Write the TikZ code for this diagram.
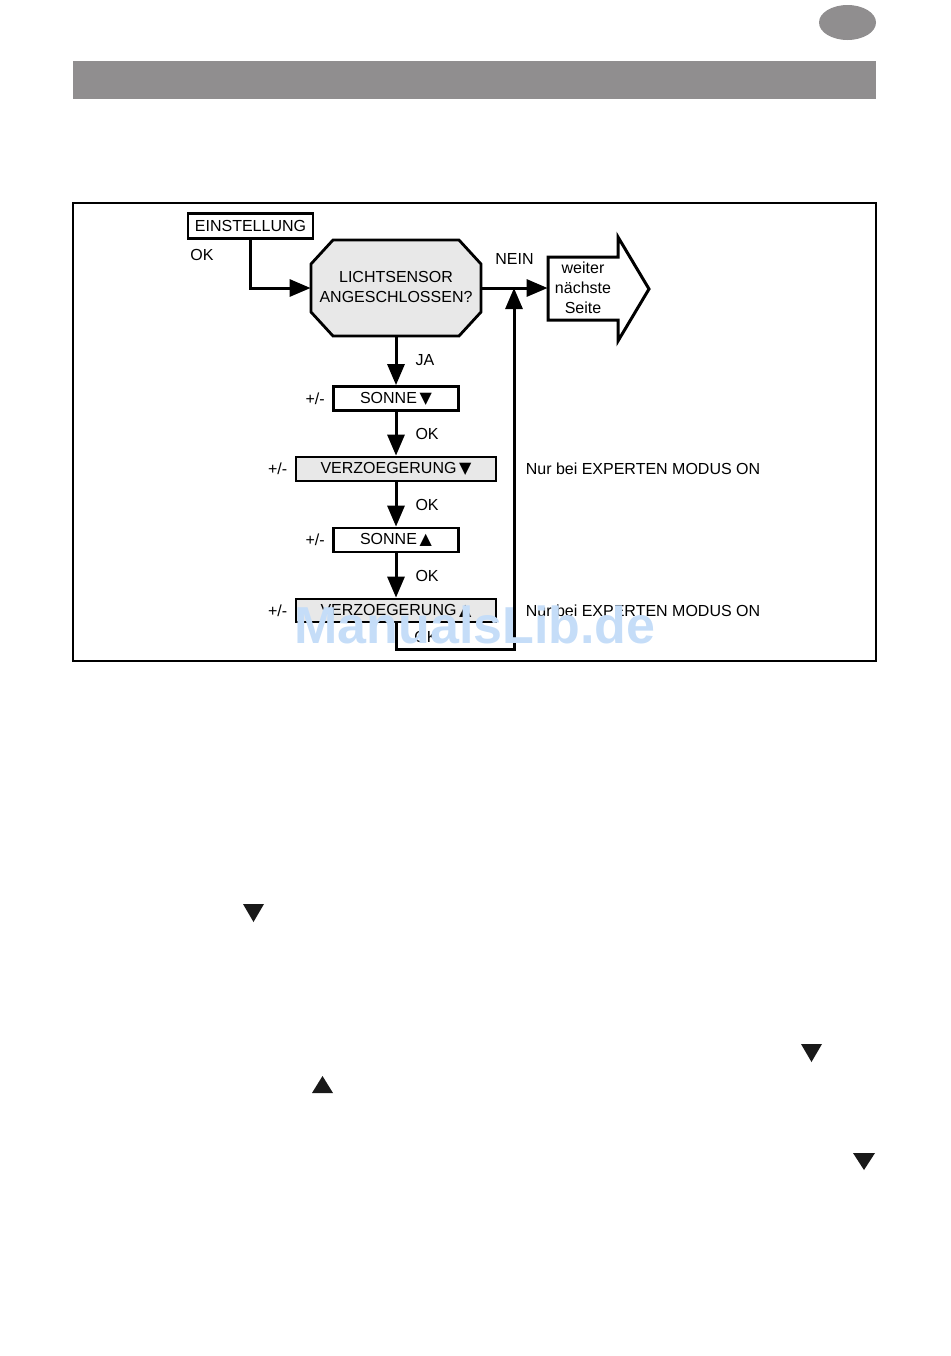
\documentclass[tikz,border=0pt]{standalone}
\usepackage{fontspec}
\setmainfont{Liberation Sans}
\newfontfamily\symfont{DejaVu Sans}
\usetikzlibrary{arrows.meta, positioning}
\definecolor{headgray}{RGB}{144,142,143}
\definecolor{boxgray}{RGB}{232,232,232}
\definecolor{markblue}{RGB}{197,221,248}

\begin{document}
\begin{tikzpicture}[x=0.5pt,y=-0.5pt,>={Triangle[length=10.5pt,width=8.5pt]},
    font=\fontsize{8pt}{10pt}\selectfont]
        \tikzstyle{menu}=[draw, line width=1.4pt, minimum width=62.5pt, minimum height=12pt, inner sep=0pt]
        \tikzstyle{flow}=[line width=1.5pt]
        \tikzstyle{tag}=[inner sep=0pt]
        \tikzstyle{symbolmark}=[fill=black!90]
        \useasboundingbox (0,0) rectangle (950,1356);

        % Header
        \fill[headgray] (847.5,22.5) ellipse [x radius=14.25pt, y radius=8.75pt];
        \fill[headgray] (73,61) rectangle (876,99);

        % Frame
        \draw[line width=1pt] (73,203) rectangle (876,661);

        % Start box
        \node[menu, minimum height=12.5pt] (einst) at (250.5,226) {EINSTELLUNG};
        \node[tag, anchor=west] (okstart) at (190,255) {OK};

        % Octagon
        \draw[fill=boxgray, line width=1.4pt] (333,240) -- (459,240) -- (481,264) -- (481,312)
            -- (459,336) -- (333,336) -- (311,312) -- (311,264) -- cycle;
        \node[minimum width=85pt, minimum height=48pt, inner sep=0pt, align=center]
            (sensor) at (396,287) {LICHTSENSOR\\ANGESCHLOSSEN?};

        % Big arrow
        \draw[line width=1.5pt] (548,257) -- (618,257) -- (618,237) -- (649,289)
            -- (618,341) -- (618,320) -- (548,320) -- cycle;
        \node[minimum width=35pt, inner sep=0pt, align=center] (next) at (583,288) {weiter\\n\"achste\\Seite};

        % Menu steps
        \node[menu] (sonnedown) at (396,398.5) {SONNE\,{\symfont ▼}};
        \node[menu, fill=boxgray, minimum width=100pt] (verzdown) at (396,469) {VERZOEGERUNG\,{\symfont ▼}};
        \node[menu] (sonneup) at (396,540) {SONNE\,{\symfont ▲}};
        \node[menu, fill=boxgray, minimum width=100pt, minimum height=11.5pt] (verzup) at (396,610.5) {VERZOEGERUNG\,{\symfont ▲}};

        \node[tag, left=3.5pt of sonnedown] (pm1) {+/-};
        \node[tag, left=3.5pt of verzdown] (pm2) {+/-};
        \node[tag, left=3.5pt of sonneup] (pm3) {+/-};
        \node[tag, left=3.5pt of verzup] (pm4) {+/-};

        \node[tag, right=14pt of verzdown] (expert1) {Nur bei EXPERTEN MODUS ON};
        \node[tag, right=14pt of verzup] (expert2) {Nur bei EXPERTEN MODUS ON};

        % Connectors
        \coordinate (merge) at (514,288);
        \coordinate (loopbot) at (514,649);
        \draw[flow,->] (einst.south) |- (sensor.west |- merge);
        \draw[flow,->] (sensor.east |- merge) -- (next.west) node[tag, midway, above=11pt] {NEIN};
        \draw[flow,->] (sensor.south) -- (sonnedown.north) node[tag, midway, right=9pt] {JA};
        \draw[flow,->] (sonnedown.south) -- (verzdown.north) node[tag, midway, right=9pt] {OK};
        \draw[flow,->] (verzdown.south) -- (sonneup.north) node[tag, midway, right=9pt] {OK};
        \draw[flow,->] (sonneup.south) -- (verzup.north) node[tag, midway, right=9pt] {OK};
        \draw[flow,->] (verzup.south) |- (loopbot) -- (merge);
        \node[tag, anchor=west] (okloop) at (414,637) {OK};

        % Watermark
        \node[tag, text=markblue, font=\fontsize{26pt}{26pt}\selectfont\bfseries] (wm) at (475,624.5) {ManualsLib.de};

        % Loose symbols
        \fill[symbolmark] (243,904) -- (264,904) -- (253.5,922) -- cycle;
        \fill[symbolmark] (312,1093) -- (333,1093) -- (322.5,1076) -- cycle;
        \fill[symbolmark] (801,1044) -- (822,1044) -- (811.5,1062) -- cycle;
        \fill[symbolmark] (853,1153) -- (875,1153) -- (864,1170) -- cycle;
    \end{tikzpicture}
\end{document}
